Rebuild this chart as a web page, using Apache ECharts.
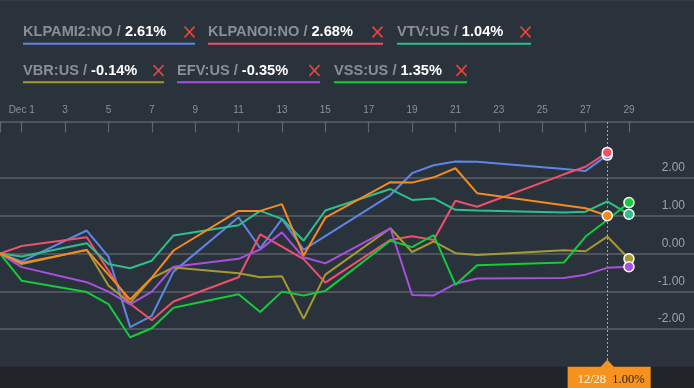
<!DOCTYPE html>
<html><head><meta charset="utf-8">
<script src="https://cdn.jsdelivr.net/npm/echarts@6/dist/echarts.min.js"></script>
<style>html,body{margin:0;padding:0;background:#2a323c;}#c{width:694px;height:388px;}</style>
</head><body><div id="c"></div>
<script>
// ---- categories (calendar days shown on the axis) ----
const axisDays = ['11/30','12/1','12/2','12/3','12/4','12/5','12/6','12/7','12/8','12/9','12/10',
  '12/11','12/12','12/13','12/14','12/15','12/16','12/17','12/18','12/19','12/20','12/21','12/22',
  '12/23','12/24','12/25','12/26','12/27','12/28','12/29','12/30','12/31','1/1'];
// ---- trading dates with observations ----
const tradeDates = ['11/30','12/1','12/4','12/5','12/6','12/7','12/8','12/11','12/12','12/13','12/14',
  '12/15','12/18','12/19','12/20','12/21','12/22','12/26','12/27','12/28','12/29'];
// ---- series values (% return) ----
const klpami2 = [0,-0.21,0.61,-0.08,-1.95,-1.65,-0.48,0.96,0.14,0.91,0.10,0.46,1.55,2.13,2.34,2.44,2.43,2.24,2.19,2.61,null];
const klpanoi = [0,0.20,0.43,-0.45,-1.33,-1.77,-1.27,-0.63,0.51,0.18,-0.15,-0.77,0.36,0.46,0.36,1.40,1.24,2.10,2.30,2.68,null];
const vtv     = [0,-0.08,0.27,-0.28,-0.39,-0.19,0.48,0.75,1.13,0.92,0.34,1.14,1.71,1.42,1.46,1.16,1.14,1.09,1.11,1.38,1.04];
const vbr     = [0,-0.28,0.10,-0.85,-1.31,-0.65,-0.37,-0.52,-0.63,-0.60,-1.73,-0.56,0.67,0.04,0.32,0.01,-0.04,0.09,0.06,0.45,-0.14];
const efv     = [0,-0.36,-0.76,-1.01,-1.35,-1.01,-0.35,-0.14,0.11,0.56,-0.10,-0.26,0.67,-1.10,-1.11,-0.80,-0.66,-0.65,-0.56,-0.38,-0.35];
const vss     = [0,-0.72,-1.02,-1.34,-2.22,-1.98,-1.44,-1.08,-1.55,-1.01,-1.11,-0.99,0.34,0.17,0.49,-0.83,-0.31,-0.24,0.45,0.89,1.35];
const portfolio = [0,-0.25,0.09,-0.56,-1.22,-0.64,0.08,1.13,1.13,1.31,-0.05,0.95,1.89,1.88,2.02,2.26,1.60,1.28,1.20,1.00,null];
// ---- names ----
const seriesNames = ['KLPAMI2:NO','KLPANOI:NO','VTV:US','VBR:US','EFV:US','VSS:US','Portfolio'];
const seriesValues = [klpami2, klpanoi, vtv, vbr, efv, vss, portfolio];
const yTicks = [-2,-1,0,1,2];
const hoverDate = '12/28';

const colors = ['#5d86e6','#f0506a','#2ebf8c','#a59a30','#a950e0','#14cb3c','#f58a1f'];

const chart = echarts.init(document.getElementById('c'), null, {renderer:'canvas'});

const series = seriesValues.map((vals, si) => {
  const data = [];
  tradeDates.forEach((d, i) => { if (vals[i] !== null) data.push([d, vals[i]]); });
  const s = {
    name: seriesNames[si], type: 'line', data: data,
    symbol: 'circle', showSymbol: true, showAllSymbol: true,
    symbolSize: (v, p) => p.dataIndex === data.length - 1 ? 10 : 0,
    lineStyle: {width: 2, color: colors[si]},
    itemStyle: {color: colors[si], borderColor: '#ffffff', borderWidth: 1.5},
    emphasis: {disabled: true}, silent: true, z: 3
  };
  if (si === 0) {
    s.markLine = {silent: true, symbol: ['none','none'], label: {show: false},
      lineStyle: {color: '#5a6168', width: 1.5, type: 'solid'},
      data: yTicks.map(v => ({yAxis: v})), z: 1};
  }
  return s;
});

chart.setOption({
  backgroundColor: '#2a323c',
  animation: false,
  grid: {left: 0, right: 0, top: 121.5, bottom: 21.3, containLabel: false},
  xAxis: {
    type: 'category', position: 'top', boundaryGap: false, data: axisDays,
    axisLine: {show: true, onZero: false, lineStyle: {color: '#59606a', width: 1.5}},
    axisTick: {show: true, inside: true, length: 11, lineStyle: {color: '#5f666f', width: 1.2},
      interval: (i) => i === 0 || (i % 2 === 1 && i <= 29)},
    axisLabel: {show: true, color: '#8b929a', fontSize: 10, fontFamily: 'Liberation Sans, Arial', margin: 6,
      interval: (i) => (i % 2 === 1 && i <= 29),
      formatter: (v) => v === '12/1' ? 'Dec 1' : v.split('/')[1]},
    splitLine: {show: false}
  },
  yAxis: {
    type: 'value', position: 'right', min: -3, max: 3.5, interval: 1,
    axisLine: {show: false}, axisTick: {show: false}, splitLine: {show: false},
    axisLabel: {inside: true, margin: 9, color: '#9ca2a9', fontSize: 12, fontFamily: 'Liberation Sans, Arial',
      verticalAlign: 'bottom', lineHeight: 12, padding: [0,0,4,0],
      formatter: (v) => (yTicks.indexOf(v) >= 0 ? v.toFixed(2) : '')}
  },
  series: series
});

// ---- graphics: legend chips, bottom band, hover tag ----
const g = [];
g.push({type:'rect', shape:{x:0,y:0,width:694,height:1}, style:{fill:'#343c46'}, silent:true});
const gridBottom = 388 - 21.3;
g.push({type:'rect', shape:{x:0,y:gridBottom,width:694,height:388-gridBottom}, style:{fill:'#212428'}, silent:true, z:0});

const legendSlots = [[23,32,195],[208,32,383],[397,32,531],[23,70.5,164],[177,70.5,320],[334,70.5,467]];
for (let i = 0; i < 6; i++) {
  const vals = seriesValues[i];
  let last = null; vals.forEach(v => { if (v !== null) last = v; });
  const [lx, ly, lend] = legendSlots[i];
  g.push({type:'text', silent:true, z:10, style:{x: lx, y: ly, verticalAlign:'middle', align:'left',
    text: '{a|' + seriesNames[i] + ' / }{b|' + last.toFixed(2) + '%}',
    rich: {a:{fill:'#8a8f96', font:'bold 14.6px "Liberation Sans", Arial'},
           b:{fill:'#ffffff', font:'bold 14.6px "Liberation Sans", Arial'}}}});
  g.push({type:'rect', silent:true, z:10, shape:{x: lx, y: ly + 10.7, width: lend - lx, height: 2}, style:{fill: colors[i]}});
  const cx = lend - 5.5, cy = ly;
  g.push({type:'line', silent:true, z:10, shape:{x1:cx-5, y1:cy-5.3, x2:cx+5, y2:cy+5.3}, style:{stroke:'#e8433a', lineWidth:1.7}});
  g.push({type:'line', silent:true, z:10, shape:{x1:cx+5, y1:cy-5.3, x2:cx-5, y2:cy+5.3}, style:{stroke:'#e8433a', lineWidth:1.7}});
}

const hx = chart.convertToPixel({xAxisIndex:0}, hoverDate);
const hxl = Math.round(hx) + 0.5;
const hIdx = tradeDates.indexOf(hoverDate);
g.push({type:'line', silent:true, z:2, shape:{x1:hxl, y1:122, x2:hxl, y2:gridBottom}, style:{stroke:'#e29a1f', lineWidth:1, lineDash:[2,2]}});
g.push({type:'rect', silent:true, z:11, shape:{x: hx - 39.6, y: gridBottom, width: 83, height: 388-gridBottom}, style:{fill:'#f7921e'}});
g.push({type:'polygon', silent:true, z:11, shape:{points:[[hx-7, gridBottom+0.5],[hx+7, gridBottom+0.5],[hx, gridBottom-7]]}, style:{fill:'#f7921e'}});
g.push({type:'text', silent:true, z:12, style:{x: hx - 29.6, y: 380, verticalAlign:'middle', align:'left',
  text: '{a|' + hoverDate + '}{b|  ' + portfolio[hIdx].toFixed(2) + '%}',
  rich: {a:{fill:'#fff3e6', font:'12.5px "Liberation Serif", "DejaVu Serif", serif'},
         b:{fill:'#2a2520', font:'12.5px "Liberation Serif", "DejaVu Serif", serif'}}}});

chart.setOption({graphic: g});
</script>
</body></html>
